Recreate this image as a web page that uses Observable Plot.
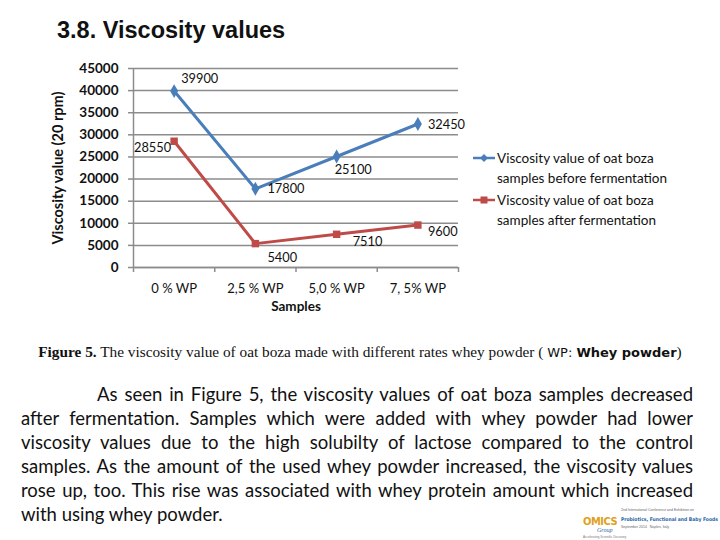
<!DOCTYPE html>
<html>
<head>
<meta charset="utf-8">
<script src="https://cdn.jsdelivr.net/npm/d3@7"></script>
<script src="https://cdn.jsdelivr.net/npm/@observablehq/plot@0.6"></script>
<style>
  html, body { margin: 0; padding: 0; background: #fff; }
  body { width: 720px; height: 540px; position: relative; overflow: hidden; }
  .abs { position: absolute; }
  #title { left: 57px; top: 18px; font: bold 23.5px "Liberation Sans", Arial, sans-serif; color: #111; line-height: 24px; white-space: nowrap; }
  #chart { left: 0; top: 0; }
  #legend { left: 473px; top: 148px; font: 13.5px Lato, "Noto Sans", sans-serif; color: #111; }
  .lg-row { display: flex; align-items: flex-start; margin-bottom: 2px; }
  .lg-row svg { flex: none; margin-top: 5px; }
  .lg-text { line-height: 20px; margin-left: 2px; white-space: nowrap; }
  #caption { left: 0; width: 720px; top: 343px; text-align: center; font: 15.3px "Liberation Serif", "Times New Roman", serif; color: #111; white-space: nowrap; }
  #caption .sans { font-family: "DejaVu Sans", Verdana, sans-serif; font-size: 13px; }
  #para { left: 21px; width: 672px; top: 382px; font: 18.5px Lato, "Noto Sans", sans-serif; color: #111; line-height: 24px; }
  #para div { text-align: justify; text-align-last: justify; white-space: nowrap; }
  #para div.last { text-align-last: left; }
  #logo { left: 583px; top: 503px; width: 137px; height: 37px; font-family: "Liberation Sans", sans-serif; }
  #logo div { white-space: nowrap; line-height: 1; }
</style>
</head>
<body>
<div id="title" class="abs">3.8. Viscosity values</div>
<div id="chart" class="abs"></div>
<div id="legend" class="abs"></div>
<div id="caption" class="abs"><b>Figure 5.</b> The viscosity value of oat boza made with different rates whey powder ( <span class="sans">WP: <b>Whey powder</b></span>)</div>
<div id="para" class="abs"></div>
<div id="logo" class="abs">
  <div class="abs" style="left:0;top:12px;font:bold 11px 'DejaVu Sans Condensed',sans-serif;color:#e0a020;letter-spacing:-0.5px">OMICS</div>
  <div class="abs" style="left:14px;top:24px;font:italic 6px 'Liberation Serif',serif;color:#2a63a8">Group</div>
  <div class="abs" style="left:38px;top:5px;font:3.5px sans-serif;color:#666">2nd International Conference and Exhibition on</div>
  <div class="abs" style="left:38px;top:13px;font:bold 5px 'DejaVu Sans Condensed',sans-serif;color:#2a63a8">Probiotics, Functional and Baby Foods</div>
  <div class="abs" style="left:38px;top:22px;font:3.5px sans-serif;color:#666">September 2014 &nbsp; Naples, Italy</div>
  <div class="abs" style="left:0px;top:32px;font:3px sans-serif;color:#777">Accelerating Scientific Discovery</div>
</div>

<script>
// ---- data ----
const categories = ["0 % WP", "2,5 % WP", "5,0 % WP", "7, 5% WP"];
const beforeValues = [39900, 17800, 25100, 32450];
const afterValues = [28550, 5400, 7510, 9600];
const seriesNames = [
  "Viscosity value of oat boza samples before fermentation",
  "Viscosity value of oat boza samples after fermentation"
];
const yTicks = [0, 5000, 10000, 15000, 20000, 25000, 30000, 35000, 40000, 45000];
const titleText = "3.8. Viscosity values";
const yLabel = "Viscosity value (20 rpm)";
const xLabel = "Samples";
const paragraphLines = [
  "As seen in Figure 5, the viscosity values of oat boza samples decreased",
  "after fermentation. Samples which were added with whey powder had lower",
  "viscosity values due to the high solubilty of lactose compared to the control",
  "samples. As the amount of the used whey powder increased, the viscosity values",
  "rose up, too. This rise was associated with whey protein amount which increased",
  "with using whey powder."
];

// ---- styling / layout (not data) ----
const blue = "#4A7EBB", red = "#BE4B48", gridColor = "#8c8c8c";
const labelFont = "Lato, 'Noto Sans', sans-serif";
// label placement per point: [dx, dy, anchor]
const beforeLabelPos = [[7, -12, "start"], [12, 0, "start"], [-2, 13, "start"], [10, 1, "start"]];
const afterLabelPos = [[-3, 7, "end"], [12, 14, "start"], [16, 8, "start"], [10, 7, "start"]];

const rows = [];
categories.forEach((c, i) => {
  rows.push({series: seriesNames[0], i, cat: c, value: beforeValues[i]});
  rows.push({series: seriesNames[1], i, cat: c, value: afterValues[i]});
});
const beforeRows = rows.filter(d => d.series === seriesNames[0]);
const afterRows = rows.filter(d => d.series === seriesNames[1]);

const idx = categories.map((_, i) => i);
const edges = [-0.5, ...idx.map(i => i + 0.5)];

const labelMarks = [];
beforeRows.forEach((d, k) => {
  const [dx, dy, anchor] = beforeLabelPos[k];
  labelMarks.push(Plot.text([d], {x: "i", y: "value", text: d => String(d.value), dx, dy, textAnchor: anchor, lineAnchor: "middle", fontSize: 12.8, fontFamily: labelFont, fill: "#111"}));
});
afterRows.forEach((d, k) => {
  const [dx, dy, anchor] = afterLabelPos[k];
  labelMarks.push(Plot.text([d], {x: "i", y: "value", text: d => String(d.value), dx, dy, textAnchor: anchor, lineAnchor: "middle", fontSize: 12.8, fontFamily: labelFont, fill: "#111"}));
});

const chart = Plot.plot({
  width: 720,
  height: 320,
  marginTop: 68,
  marginBottom: 53,
  marginLeft: 133,
  marginRight: 262,
  style: {background: "transparent", overflow: "visible"},
  x: {type: "linear", domain: [-0.5, categories.length - 0.5]},
  y: {domain: [0, 45000]},
  marks: [
    Plot.gridY(yTicks, {stroke: gridColor, strokeOpacity: 1, strokeWidth: 1.5}),
    Plot.ruleX([-0.5], {stroke: gridColor, strokeWidth: 1.5}),
    Plot.ruleY([0], {stroke: gridColor, strokeWidth: 1.5}),
    Plot.axisY({ticks: yTicks, tickSize: 5, tickPadding: 10, stroke: gridColor, strokeWidth: 1.5, strokeOpacity: 1,
      fontSize: 13.5, fontWeight: "bold", fontFamily: labelFont, fill: "#111", label: null, tickFormat: d => String(d),
      style: {letterSpacing: "0.6px"}}),
    Plot.axisX({ticks: edges, tickSize: 5, tickFormat: () => "", stroke: gridColor, strokeWidth: 1.5, strokeOpacity: 1, label: null}),
    Plot.axisX({ticks: idx, tickSize: 0, tickPadding: 16, tickFormat: i => categories[i], fontSize: 13, fontFamily: labelFont, fill: "#111", label: null}),
    Plot.text([yLabel], {frameAnchor: "left", dx: -75, rotate: -90, text: d => d, fontSize: 14.5, fontWeight: "bold", fontFamily: labelFont, fill: "#111", textAnchor: "middle", lineAnchor: "middle", style: {letterSpacing: "0.7px"}}),
    Plot.text([xLabel], {frameAnchor: "bottom", dy: 39, text: d => d, fontSize: 13.5, fontWeight: "bold", fontFamily: labelFont, fill: "#111", lineAnchor: "middle"}),
    Plot.line(beforeRows, {x: "i", y: "value", stroke: blue, strokeWidth: 3}),
    Plot.line(afterRows, {x: "i", y: "value", stroke: red, strokeWidth: 3}),
    Plot.dot(beforeRows, {x: "i", y: "value", symbol: "diamond", r: 4.2, fill: blue}),
    Plot.dot(afterRows, {x: "i", y: "value", symbol: "square", r: 4.2, fill: red}),
    ...labelMarks
  ]
});
document.getElementById("chart").appendChild(chart);

// legend
const legend = document.getElementById("legend");
const legendItems = [
  {name: seriesNames[0], color: blue, shape: "diamond", lines: ["Viscosity value of oat boza", "samples before fermentation"]},
  {name: seriesNames[1], color: red, shape: "square", lines: ["Viscosity value of oat boza", "samples after fermentation"]}
];
legendItems.forEach(item => {
  const row = document.createElement("div");
  row.className = "lg-row";
  const marker = item.shape === "diamond"
    ? `<path d="M11,1 L15,5 L11,9 L7,5 Z" fill="${item.color}"/>`
    : `<rect x="7.5" y="1.5" width="7" height="7" fill="${item.color}"/>`;
  row.innerHTML = `<svg width="22" height="10"><line x1="0" y1="5" x2="22" y2="5" stroke="${item.color}" stroke-width="2.5"/>${marker}</svg>` +
    `<div class="lg-text">${item.lines.join("<br>")}</div>`;
  legend.appendChild(row);
});

// paragraph
const para = document.getElementById("para");
paragraphLines.forEach((t, k) => {
  const d = document.createElement("div");
  d.textContent = t;
  if (k === 0) d.style.paddingLeft = "76px";
  if (k === paragraphLines.length - 1) d.className = "last";
  para.appendChild(d);
});
</script>
</body>
</html>
